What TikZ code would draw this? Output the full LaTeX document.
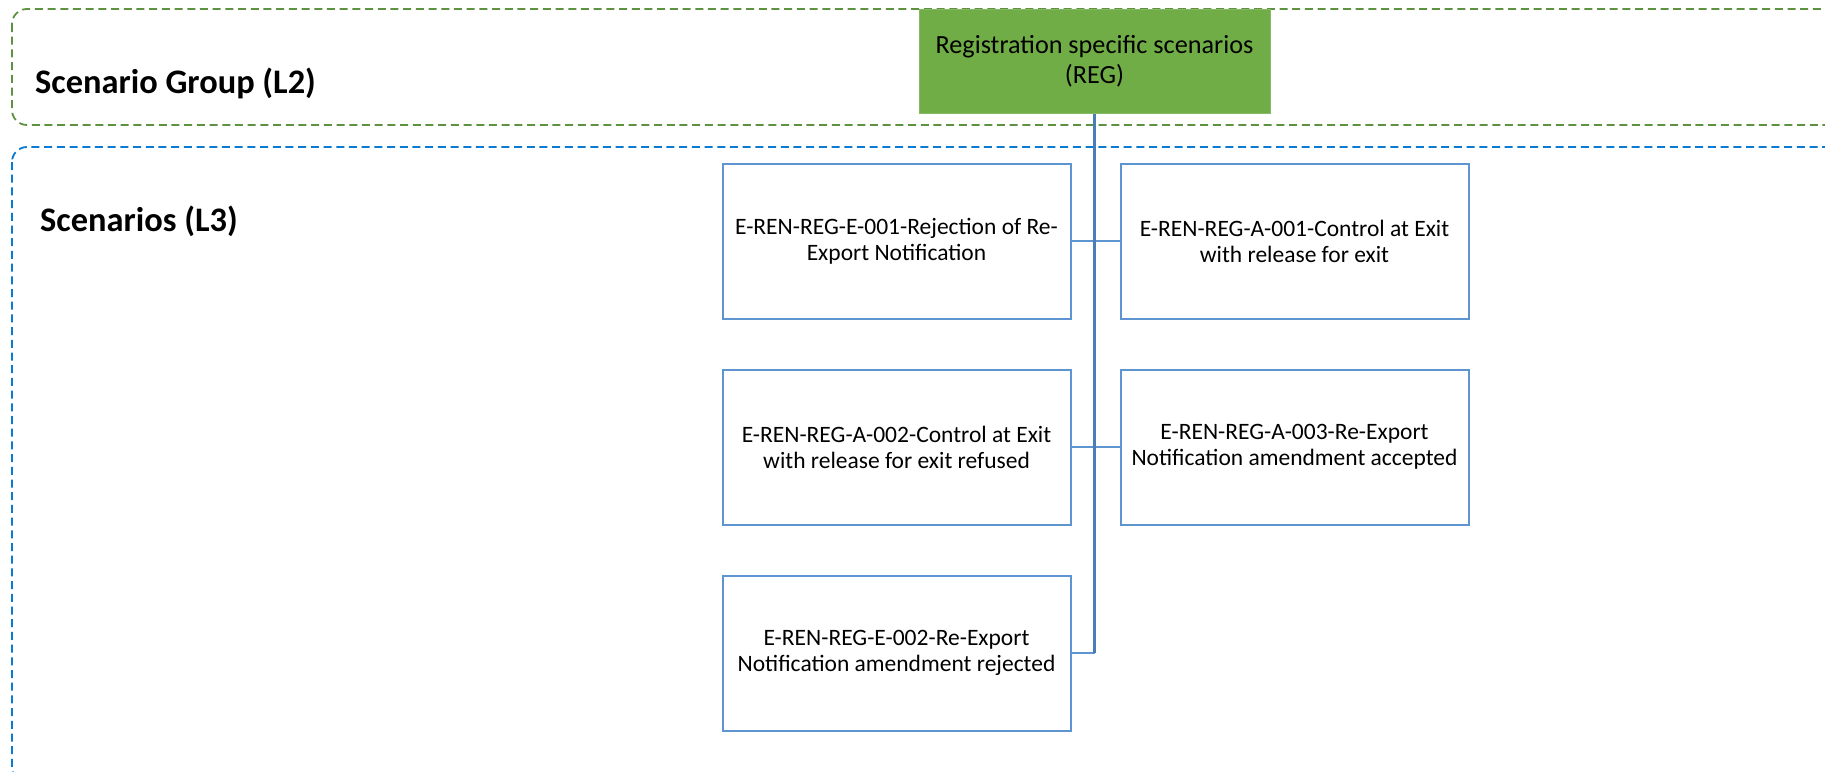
\documentclass[tikz,border=0pt]{standalone}
\usepackage{fontspec}
\setmainfont{Carlito}
\definecolor{grpgreen}{HTML}{70AD47}
\definecolor{grpdash}{HTML}{5F9240}
\definecolor{scdash}{HTML}{0A7BD0}
\definecolor{boxblue}{HTML}{5E95D0}
\definecolor{trunkblue}{HTML}{4A7DB8}
\tikzset{
  grpframe/.style={draw=grpdash, line width=1.8pt, dash pattern=on 8pt off 4.7pt, rounded corners=15pt},
  scframe/.style={draw=scdash, line width=1.8pt, dash pattern=on 8pt off 4.7pt, rounded corners=15pt},
  levellabel/.style={anchor=west, inner sep=0pt, font=\fontsize{34.4}{40}\selectfont\bfseries},
  groupbox/.style={draw=grpgreen!85!white, fill=grpgreen, line width=1pt, minimum width=351pt, minimum height=104pt, align=center, inner sep=0pt, font=\fontsize{26.2}{30}\selectfont},
  scbox/.style={draw=boxblue, fill=white, line width=2pt, minimum width=348pt, minimum height=155pt, align=center, inner sep=0pt, font=\fontsize{23.5}{26}\selectfont},
  conn/.style={draw=trunkblue, line width=2.2pt},
  branch/.style={draw=boxblue, line width=2pt}
}
\begin{document}
\begin{tikzpicture}[x=1pt,y=-1pt]
\useasboundingbox (0,0) rectangle (1825,771);
\clip (0,0) rectangle (1825,771);
\fill[white] (0,0) rectangle (1825,771);
% frames
\draw[grpframe] (12,9) rectangle (1840,125);
\draw[scframe] (12,147) rectangle (1840,782);
\node[levellabel] (l2) at (35,83) {Scenario Group (L2)};
\node[levellabel] (l3) at (40,221) {Scenarios (L3)};
% nodes
\node[groupbox] (reg) at (1094.5,61) {Registration specific scenarios\\(REG)};
\node[scbox] (e1) at (896.5,241) {E-REN-REG-E-001-Rejection of Re-\\Export Notification};
\node[scbox] (a1) at (1294.5,241) {E-REN-REG-A-001-Control at Exit\\with release for exit};
\node[scbox] (a2) at (896.5,447) {E-REN-REG-A-002-Control at Exit\\with release for exit refused};
\node[scbox] (a3) at (1294.5,447) {E-REN-REG-A-003-Re-Export\\Notification amendment accepted};
\node[scbox] (e2) at (896.5,653) {E-REN-REG-E-002-Re-Export\\Notification amendment rejected};
% connectors
\draw[branch] (e1.east) -- (a1.west);
\draw[branch] (a2.east) -- (a3.west);
\draw[branch] (e2.east) -- (e2.east -| reg.south);
\draw[conn] (reg.south) -- (reg.south |- e2.east);
\end{tikzpicture}
\end{document}
